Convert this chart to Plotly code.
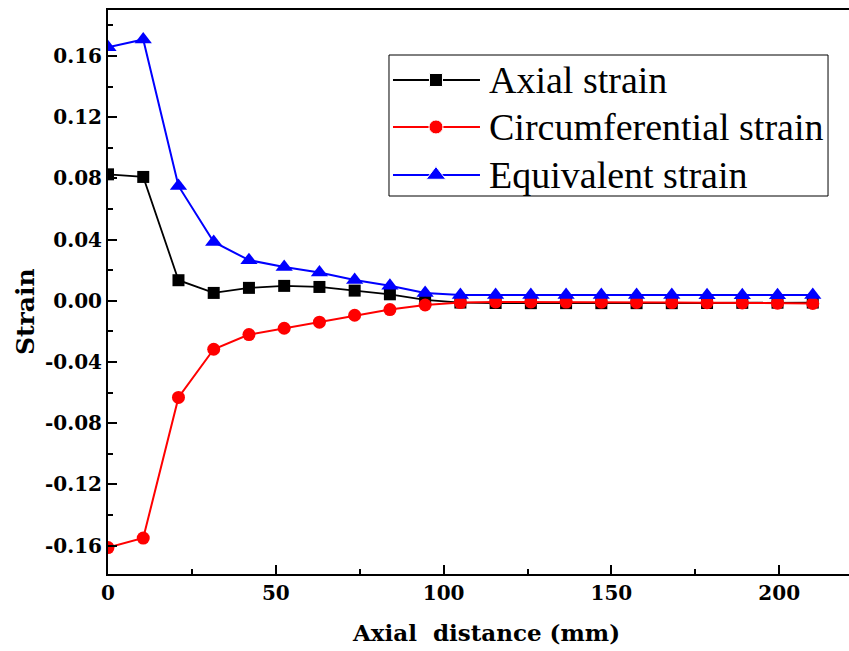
import plotly.graph_objects as go

# Axial positions (mm)
distance = [0, 10.5, 21, 31.5, 42, 52.5, 63, 73.5, 84, 94.5, 105, 115.5,
            126, 136.5, 147, 157.5, 168, 178.5, 189, 199.5, 210]

axial_strain = [0.0826, 0.0809, 0.0134, 0.0051, 0.0084, 0.0097, 0.0090,
                0.0066, 0.0042, 0.0005, -0.0012, -0.0015, -0.0016, -0.0016,
                -0.0016, -0.0016, -0.0016, -0.0015, -0.0014, -0.0013, -0.0012]

circumferential_strain = [-0.1613, -0.1551, -0.0632, -0.0317, -0.0221,
                          -0.0180, -0.0140, -0.0095, -0.0058, -0.0028,
                          -0.0012, -0.0008, -0.0008, -0.0009, -0.0010,
                          -0.0011, -0.0012, -0.0013, -0.0015, -0.0016, -0.0018]

equivalent_strain = [0.1656, 0.1707, 0.0750, 0.0384, 0.0265, 0.0221, 0.0185,
                     0.0135, 0.0098, 0.0050, 0.0037, 0.0037, 0.0037, 0.0037,
                     0.0037, 0.0037, 0.0037, 0.0036, 0.0036, 0.0036, 0.0038]

series_names = ["Axial strain", "Circumferential strain", "Equivalent strain"]
series_colors = ["#000000", "#ff0000", "#0000ff"]
series_symbols = ["square", "circle", "triangle-up"]
series_sizes = [12, 13, 15]
series_widths = [1.8, 2, 2]

x_ticks = [0, 50, 100, 150, 200]
y_ticks = [-0.16, -0.12, -0.08, -0.04, 0.00, 0.04, 0.08, 0.12, 0.16]
y_tick_labels = ["-0.16", "-0.12", "-0.08", "-0.04", "0.00",
                 "0.04", "0.08", "0.12", "0.16"]

x_title = "Axial  distance (mm)"
y_title = "Strain"

SERIF = "Liberation Serif"
BOLD_SERIF = "DejaVu Serif"


def bold_font(size):
    return dict(family=BOLD_SERIF, size=size, color="black", weight="bold")


fig = go.Figure()
for vals, name, col, sym, size, lw in zip(
        [axial_strain, circumferential_strain, equivalent_strain],
        series_names, series_colors, series_symbols, series_sizes,
        series_widths):
    fig.add_trace(go.Scatter(
        x=distance, y=vals, name=name, mode="lines+markers",
        line=dict(color=col, width=lw),
        marker=dict(symbol=sym, size=size, color=col),
        showlegend=False))

axis_common = dict(
    showgrid=False, zeroline=False, showline=True, linecolor="black",
    linewidth=2, ticks="inside", tickwidth=2, ticklen=9, tickcolor="black",
    tickfont=bold_font(20),
)

fig.update_xaxes(
    range=[0, 220.8], tickvals=x_ticks, ticktext=[str(v) for v in x_ticks],
    mirror=True,
    minor=dict(ticks="inside", ticklen=5, tickwidth=2, tickcolor="black",
               dtick=25),
    **axis_common)
fig.update_yaxes(
    range=[-0.1786, 0.19], tickvals=y_ticks, ticktext=y_tick_labels,
    minor=dict(ticks="inside", ticklen=5, tickwidth=2, tickcolor="black",
               dtick=0.02),
    **axis_common)

# Legend panel: box, line samples with a marker key, and labels
box_x0, box_x1, box_y0, box_y1 = 0.3792, 0.9717, 0.6702, 0.9202
key_x0, key_x1, key_mid, text_x = 0.3846, 0.5020, 0.4426, 0.5115
row_y = [0.8759, 0.7926, 0.7074]

fig.add_shape(type="rect", xref="paper", yref="paper",
              x0=box_x0, x1=box_x1, y0=box_y0, y1=box_y1,
              line=dict(color="black", width=1), fillcolor="rgba(0,0,0,0)",
              layer="below")
for ry, name, col, sym, size, lw in zip(
        row_y, series_names, series_colors, series_symbols, series_sizes,
        series_widths):
    fig.add_shape(type="line", xref="paper", yref="paper",
                  x0=key_x0, x1=key_x1, y0=ry, y1=ry,
                  line=dict(color=col, width=2), layer="below")
    fig.add_annotation(text=name, xref="paper", yref="paper",
                       x=text_x, y=ry, xanchor="left", yanchor="middle",
                       showarrow=False,
                       font=dict(family=SERIF, size=38, color="black"))
# marker keys live on a hidden overlay axis spanning the plot area
fig.add_trace(go.Scatter(
    x=[key_mid] * 3, y=row_y, mode="markers", xaxis="x2", yaxis="y2",
    marker=dict(symbol=series_symbols, size=[13, 14, 17],
                color=series_colors, opacity=1),
    showlegend=False, hoverinfo="skip"))

fig.add_annotation(
    text=x_title, xref="paper", yref="paper",
    x=0.510, y=-0.1046, xanchor="center", yanchor="middle", showarrow=False,
    font=bold_font(23))
fig.add_annotation(
    text=y_title, xref="paper", yref="paper", textangle=-90,
    x=-0.112, y=0.4645, xanchor="center", yanchor="middle", showarrow=False,
    font=bold_font(25))

fig.update_layout(
    width=849, height=651,
    margin=dict(l=108, r=0, t=10, b=77),
    plot_bgcolor="white", paper_bgcolor="white",
    showlegend=False,
    xaxis2=dict(overlaying="x", range=[0, 1], visible=False),
    yaxis2=dict(overlaying="y", range=[0, 1], visible=False),
)

fig.write_html("out.html")
